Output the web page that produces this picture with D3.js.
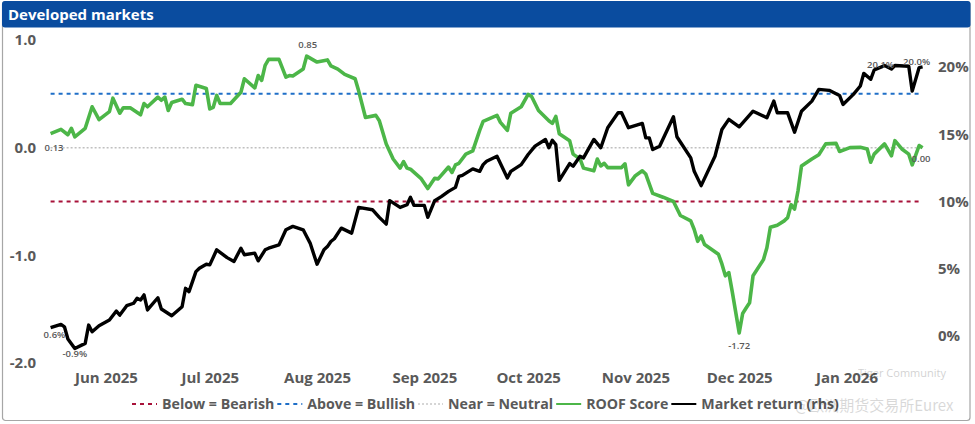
<!DOCTYPE html>
<html>
<head>
<meta charset="utf-8">
<script src="https://cdn.jsdelivr.net/npm/d3@7"></script>
<style>
  body { margin: 0; background: #fff; }
  svg { display: block; font-family: "Open Sans", "Noto Sans", sans-serif; }
</style>
</head>
<body>
<div id="chart"></div>
<script>
// ROOF score (lhs) and market return in % (rhs)
const roofScore = [
  ["2025-05-16", 0.13], ["2025-05-19", 0.17], ["2025-05-21", 0.12], ["2025-05-22", 0.18],
  ["2025-05-23", 0.10], ["2025-05-26", 0.18], ["2025-05-28", 0.38], ["2025-05-30", 0.26],
  ["2025-06-02", 0.335], ["2025-06-03", 0.46], ["2025-06-05", 0.32], ["2025-06-06", 0.37],
  ["2025-06-08", 0.37], ["2025-06-11", 0.305], ["2025-06-12", 0.41], ["2025-06-13", 0.38],
  ["2025-06-16", 0.47], ["2025-06-17", 0.44], ["2025-06-18", 0.47], ["2025-06-19", 0.345],
  ["2025-06-20", 0.42], ["2025-06-23", 0.45], ["2025-06-24", 0.41], ["2025-06-26", 0.40],
  ["2025-06-27", 0.58], ["2025-06-30", 0.55], ["2025-07-01", 0.36], ["2025-07-02", 0.375],
  ["2025-07-03", 0.485], ["2025-07-04", 0.41], ["2025-07-07", 0.41], ["2025-07-10", 0.515],
  ["2025-07-11", 0.64], ["2025-07-14", 0.555], ["2025-07-15", 0.67], ["2025-07-16", 0.625],
  ["2025-07-17", 0.765], ["2025-07-18", 0.82], ["2025-07-21", 0.82], ["2025-07-23", 0.655],
  ["2025-07-24", 0.67], ["2025-07-25", 0.665], ["2025-07-28", 0.73], ["2025-07-29", 0.85],
  ["2025-08-01", 0.795], ["2025-08-04", 0.815], ["2025-08-05", 0.76], ["2025-08-07", 0.73],
  ["2025-08-09", 0.68], ["2025-08-12", 0.64], ["2025-08-13", 0.53], ["2025-08-15", 0.28],
  ["2025-08-18", 0.30], ["2025-08-19", 0.25], ["2025-08-21", 0.035], ["2025-08-23", -0.105],
  ["2025-08-25", -0.19], ["2025-08-26", -0.13], ["2025-08-27", -0.19], ["2025-08-28", -0.20],
  ["2025-08-31", -0.285], ["2025-09-02", -0.38], ["2025-09-04", -0.285], ["2025-09-05", -0.29],
  ["2025-09-08", -0.18], ["2025-09-09", -0.23], ["2025-09-10", -0.16], ["2025-09-11", -0.145],
  ["2025-09-13", -0.06], ["2025-09-15", -0.03], ["2025-09-17", 0.16], ["2025-09-18", 0.245],
  ["2025-09-22", 0.30], ["2025-09-23", 0.235], ["2025-09-25", 0.16], ["2025-09-26", 0.32],
  ["2025-09-29", 0.38], ["2025-10-01", 0.495], ["2025-10-02", 0.475], ["2025-10-04", 0.345],
  ["2025-10-07", 0.25], ["2025-10-08", 0.225], ["2025-10-09", 0.29], ["2025-10-10", 0.13],
  ["2025-10-13", 0.065], ["2025-10-14", -0.06], ["2025-10-16", -0.105], ["2025-10-17", -0.19],
  ["2025-10-20", -0.215], ["2025-10-21", -0.105], ["2025-10-22", -0.17], ["2025-10-23", -0.145],
  ["2025-10-24", -0.185], ["2025-10-28", -0.185], ["2025-10-29", -0.15], ["2025-10-30", -0.345],
  ["2025-11-01", -0.26], ["2025-11-03", -0.215], ["2025-11-04", -0.245], ["2025-11-06", -0.425],
  ["2025-11-09", -0.46], ["2025-11-12", -0.50], ["2025-11-14", -0.63], ["2025-11-17", -0.68],
  ["2025-11-18", -0.76], ["2025-11-19", -0.87], ["2025-11-20", -0.82], ["2025-11-21", -0.90],
  ["2025-11-25", -0.99], ["2025-11-26", -1.08], ["2025-11-27", -1.19], ["2025-11-28", -1.16],
  ["2025-11-29", -1.34], ["2025-12-01", -1.72], ["2025-12-02", -1.54], ["2025-12-03", -1.49],
  ["2025-12-04", -1.44], ["2025-12-05", -1.19], ["2025-12-08", -1.04], ["2025-12-09", -0.93],
  ["2025-12-10", -0.74], ["2025-12-12", -0.72], ["2025-12-14", -0.68], ["2025-12-15", -0.65],
  ["2025-12-16", -0.53], ["2025-12-17", -0.57], ["2025-12-18", -0.40], ["2025-12-19", -0.17],
  ["2025-12-22", -0.105], ["2025-12-24", -0.065], ["2025-12-26", 0.035], ["2025-12-29", 0.04],
  ["2025-12-30", -0.035], ["2026-01-02", 0.00], ["2026-01-05", 0.003], ["2026-01-07", -0.012],
  ["2026-01-08", -0.135], ["2026-01-09", -0.06], ["2026-01-12", 0.035], ["2026-01-14", -0.075],
  ["2026-01-15", 0.065], ["2026-01-17", -0.012], ["2026-01-19", -0.06], ["2026-01-20", -0.16],
  ["2026-01-22", 0.02], ["2026-01-23", 0.00]
]

const marketReturn = [
  ["2025-05-16", 0.62], ["2025-05-19", 0.87], ["2025-05-20", 0.69], ["2025-05-21", -0.22],
  ["2025-05-23", -0.92], ["2025-05-26", -0.54], ["2025-05-27", 0.82], ["2025-05-28", 0.32],
  ["2025-05-30", 0.77], ["2025-06-02", 1.19], ["2025-06-04", 1.86], ["2025-06-05", 1.56],
  ["2025-06-07", 2.26], ["2025-06-09", 2.44], ["2025-06-10", 2.81], ["2025-06-11", 2.68],
  ["2025-06-12", 3.06], ["2025-06-13", 1.94], ["2025-06-16", 2.85], ["2025-06-17", 2.01],
  ["2025-06-20", 1.51], ["2025-06-23", 2.18], ["2025-06-24", 3.55], ["2025-06-25", 3.30],
  ["2025-06-27", 4.79], ["2025-06-28", 5.04], ["2025-06-30", 5.34], ["2025-07-01", 5.29],
  ["2025-07-03", 6.41], ["2025-07-06", 5.83], ["2025-07-08", 5.54], ["2025-07-10", 6.53],
  ["2025-07-11", 6.04], ["2025-07-14", 6.16], ["2025-07-15", 5.59], ["2025-07-17", 6.41],
  ["2025-07-18", 6.53], ["2025-07-21", 6.78], ["2025-07-23", 7.90], ["2025-07-25", 8.15],
  ["2025-07-28", 7.90], ["2025-07-29", 7.40], ["2025-07-30", 6.91], ["2025-08-01", 5.34],
  ["2025-08-03", 6.41], ["2025-08-04", 6.65], ["2025-08-05", 7.03], ["2025-08-06", 7.23],
  ["2025-08-08", 8.02], ["2025-08-11", 7.65], ["2025-08-13", 9.56], ["2025-08-17", 9.39],
  ["2025-08-19", 8.82], ["2025-08-21", 8.32], ["2025-08-22", 10.06], ["2025-08-25", 9.56],
  ["2025-08-27", 9.76], ["2025-08-28", 10.31], ["2025-08-29", 9.71], ["2025-09-01", 9.71],
  ["2025-09-02", 8.82], ["2025-09-04", 10.06], ["2025-09-06", 10.38], ["2025-09-08", 10.75],
  ["2025-09-10", 11.05], ["2025-09-11", 11.87], ["2025-09-12", 11.94], ["2025-09-15", 12.42],
  ["2025-09-17", 12.24], ["2025-09-18", 12.74], ["2025-09-19", 12.99], ["2025-09-22", 13.36],
  ["2025-09-25", 11.75], ["2025-09-26", 12.24], ["2025-09-29", 12.74], ["2025-10-01", 13.49],
  ["2025-10-03", 14.11], ["2025-10-06", 14.61], ["2025-10-07", 13.99], ["2025-10-08", 14.55],
  ["2025-10-09", 14.23], ["2025-10-10", 11.57], ["2025-10-13", 12.82], ["2025-10-14", 12.62],
  ["2025-10-16", 13.36], ["2025-10-17", 13.24], ["2025-10-20", 14.61], ["2025-10-22", 13.99],
  ["2025-10-24", 15.48], ["2025-10-27", 16.59], ["2025-10-28", 16.59], ["2025-10-30", 15.48],
  ["2025-11-03", 15.80], ["2025-11-04", 14.73], ["2025-11-05", 14.73], ["2025-11-06", 13.86],
  ["2025-11-08", 14.11], ["2025-11-12", 16.30], ["2025-11-13", 14.81], ["2025-11-17", 13.24],
  ["2025-11-18", 12.24], ["2025-11-20", 11.18], ["2025-11-24", 13.36], ["2025-11-26", 15.35],
  ["2025-11-28", 16.10], ["2025-12-01", 15.55], ["2025-12-05", 16.71], ["2025-12-09", 16.22],
  ["2025-12-11", 17.46], ["2025-12-12", 16.59], ["2025-12-15", 16.59], ["2025-12-17", 15.15],
  ["2025-12-19", 16.71], ["2025-12-22", 17.46], ["2025-12-24", 18.33], ["2025-12-27", 18.26],
  ["2025-12-30", 17.88], ["2025-12-31", 17.21], ["2026-01-03", 17.96], ["2026-01-05", 18.58],
  ["2026-01-06", 19.52], ["2026-01-08", 19.08], ["2026-01-09", 19.77], ["2026-01-12", 20.10],
  ["2026-01-14", 19.85], ["2026-01-15", 20.10], ["2026-01-19", 20.05], ["2026-01-20", 18.20],
  ["2026-01-22", 19.95], ["2026-01-23", 20.00]
]

const thresholds = [0.5, 0, -0.5]
const leftTicks = [1, 0, -1, -2]
const rightTicks = [0, 5, 10, 15, 20]
const monthTicks = ["2025-06-01", "2025-07-01", "2025-08-01", "2025-09-01",
                    "2025-10-01", "2025-11-01", "2025-12-01", "2026-01-01"]
const legendLabels = ["Below = Bearish", "Above = Bullish", "Near = Neutral", "ROOF Score", "Market return (rhs)"]

const W = 975, H = 424
const parse = d3.timeParse("%Y-%m-%d")
const roof = roofScore.map(d => ({date: parse(d[0]), v: d[1]}))
const market = marketReturn.map(d => ({date: parse(d[0]), v: d[1]}))

const svg = d3.select("#chart").append("svg")
  .attr("width", W).attr("height", H)

// frame + title bar
svg.append("rect")
  .attr("x", 2.5).attr("y", 1.5).attr("width", 967.5).attr("height", 419)
  .attr("rx", 3).attr("fill", "#fff").attr("stroke", "#a6a6a6").attr("stroke-width", 1.2)
svg.append("rect")
  .attr("x", 2).attr("y", 1).attr("width", 968.5).attr("height", 26.5)
  .attr("rx", 3).attr("fill", "#0a4c9f")
svg.append("text")
  .attr("x", 8).attr("y", 20)
  .attr("fill", "#fff").attr("font-size", 15).attr("font-weight", 700)
  .text("Developed markets")

// scales
const x = d3.scaleTime()
  .domain([roof[0].date, roof[roof.length - 1].date])
  .range([50.6, 922.6])
const yL = d3.scaleLinear().domain([-2, 1]).range([363, 40])
const yR = d3.scaleLinear().domain([-2, 22]).range([363, 40])

const grey = "#595959"

// threshold lines
const thStyle = [
  {color: "#1f6fc8", dash: "4,4", w: 2},
  {color: "#c0c0c0", dash: "2,2", w: 1.5},
  {color: "#a8123a", dash: "4,4", w: 2}
]
svg.selectAll(".thr")
  .data(thresholds)
  .join("line")
    .attr("class", "thr")
    .attr("x1", x.range()[0]).attr("x2", x.range()[1])
    .attr("y1", d => yL(d)).attr("y2", d => yL(d))
    .attr("stroke", (d, i) => thStyle[i].color)
    .attr("stroke-dasharray", (d, i) => thStyle[i].dash)
    .attr("stroke-width", (d, i) => thStyle[i].w)

// axes
const xAxis = svg.append("g")
  .attr("transform", "translate(0,370)")
  .call(d3.axisBottom(x)
    .tickValues(monthTicks.map(parse))
    .tickFormat(d3.timeFormat("%b %Y"))
    .tickSize(0).tickPadding(0))
const leftAxis = svg.append("g")
  .attr("transform", "translate(36,0)")
  .call(d3.axisLeft(yL).tickValues(leftTicks)
    .tickFormat(d => d.toFixed(1)).tickSize(0).tickPadding(0))
const rightAxis = svg.append("g")
  .attr("transform", "translate(938,0)")
  .call(d3.axisRight(yR).tickValues(rightTicks)
    .tickFormat(d => d + "%").tickSize(0).tickPadding(0))

;[xAxis, leftAxis, rightAxis].forEach(g => {
  g.select(".domain").remove()
  g.selectAll("text")
    .attr("fill", grey).attr("font-size", 15).attr("font-weight", 700)
    .attr("font-family", "Open Sans, Noto Sans, sans-serif")
})
xAxis.selectAll("text").attr("dy", "0.85em")

// lines
const lineL = d3.line().x(d => x(d.date)).y(d => yL(d.v))
const lineR = d3.line().x(d => x(d.date)).y(d => yR(d.v))

svg.append("path")
  .datum(roof)
  .attr("fill", "none")
  .attr("stroke", "#4cb648")
  .attr("stroke-width", 3.6)
  .attr("stroke-linejoin", "round")
  .attr("d", lineL)

svg.append("path")
  .datum(market)
  .attr("fill", "none")
  .attr("stroke", "#000")
  .attr("stroke-width", 3.4)
  .attr("stroke-linejoin", "round")
  .attr("d", lineR)

// data labels
function pick(arr, date) { return arr.find(d => +d.date === +parse(date)) }
const labels = [
  {p: roof[0], s: yL, t: "0.13", dx: -6, dy: 17, a: "start"},
  {p: pick(roof, "2025-07-29"), s: yL, t: "0.85", dx: 1, dy: -8, a: "middle"},
  {p: pick(roof, "2025-12-01"), s: yL, t: "-1.72", dx: 0, dy: 16, a: "middle"},
  {p: roof[roof.length - 1], s: yL, t: "0.00", dx: -11, dy: 14, a: "start"},
  {p: market[0], s: yR, t: "0.6%", dx: -7, dy: 10, a: "start"},
  {p: pick(market, "2025-05-23"), s: yR, t: "-0.9%", dx: 0, dy: 9, a: "middle"},
  {p: pick(market, "2026-01-12"), s: yR, t: "20.1%", dx: -4, dy: 2, a: "middle"},
  {p: market[market.length - 1], s: yR, t: "20.0%", dx: -6, dy: -2, a: "middle"}
]
svg.selectAll(".dlab")
  .data(labels)
  .join("text")
    .attr("class", "dlab")
    .attr("x", d => x(d.p.date) + d.dx)
    .attr("y", d => d.s(d.p.v) + d.dy)
    .attr("text-anchor", d => d.a)
    .attr("font-size", 9.5).attr("font-weight", 600)
    .attr("fill", grey)
    .text(d => d.t)

// legend
const legStyle = [
  {color: "#a8123a", dash: "4,4", w: 2},
  {color: "#1f6fc8", dash: "4,4", w: 2},
  {color: "#c8c8c8", dash: "2,2", w: 1.5},
  {color: "#4cb648", dash: null, w: 2},
  {color: "#000", dash: null, w: 2}
]
const legend = svg.append("g").attr("transform", "translate(0,404)")
let lx = 132
legendLabels.forEach((lab, i) => {
  legend.append("line")
    .attr("x1", lx).attr("x2", lx + 25).attr("y1", 0).attr("y2", 0)
    .attr("stroke", legStyle[i].color)
    .attr("stroke-width", legStyle[i].w)
    .attr("stroke-dasharray", legStyle[i].dash)
  const t = legend.append("text")
    .attr("x", lx + 30).attr("y", 0).attr("dy", "0.35em")
    .attr("fill", grey).attr("font-size", 14.2).attr("font-weight", 700)
    .text(lab)
  lx += 30 + t.node().getComputedTextLength() + 3
})

// watermark
svg.append("text")
  .attr("x", 858).attr("y", 377)
  .attr("fill", "#000").attr("opacity", 0.18).attr("font-size", 11)
  .text("Tiger Community")
svg.append("text")
  .attr("x", 795).attr("y", 411)
  .attr("fill", "#000").attr("opacity", 0.15).attr("font-size", 15)
  .attr("font-family", "Noto Sans CJK SC, sans-serif")
  .text("@欧洲期货交易所Eurex")
</script>
</body>
</html>
